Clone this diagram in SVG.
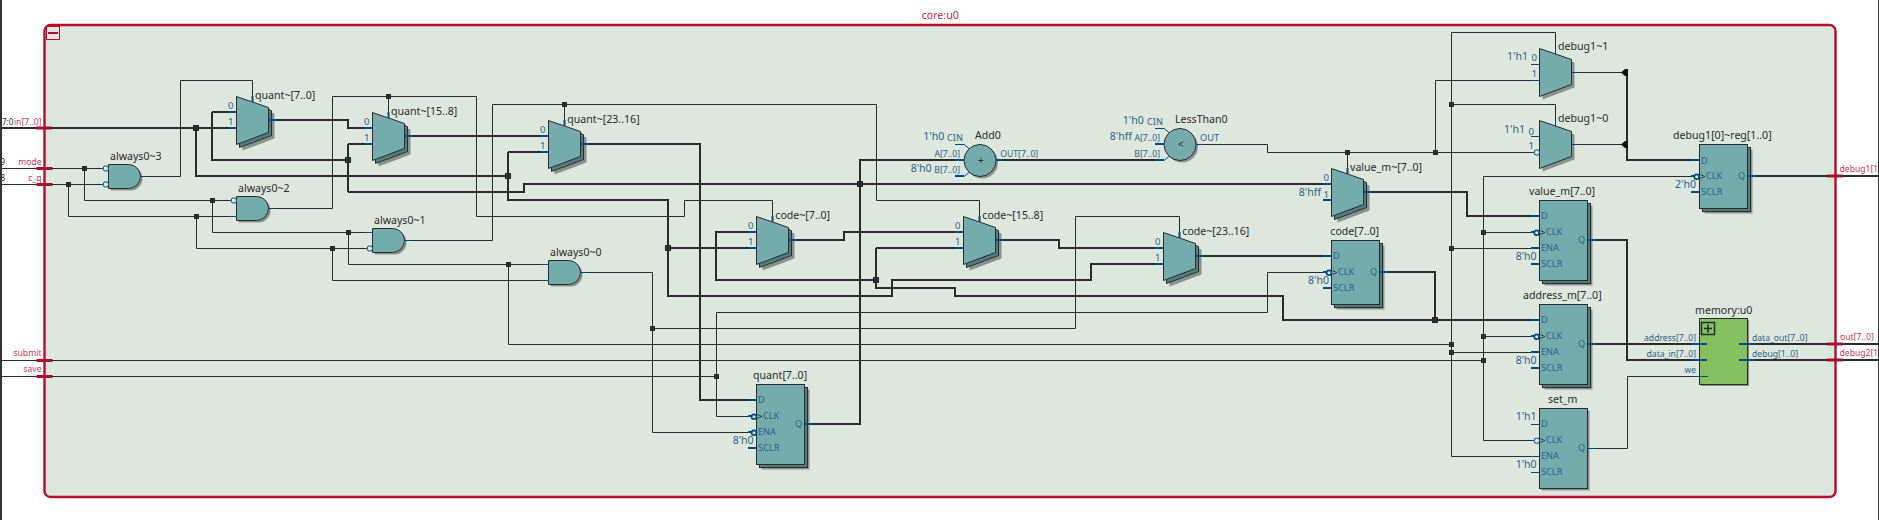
<svg xmlns="http://www.w3.org/2000/svg" xmlns:xlink="http://www.w3.org/1999/xlink" width="1879" height="520" viewBox="0 0 1879 520">
<style>
text{font-family:"Noto Sans","DejaVu Sans",sans-serif}
.n{font-size:10.6px;fill:#2b2b2b}
.l{font-size:9.2px;fill:#2e6288}
.b{font-size:8.6px;fill:#2e6288}
.m{font-size:9.6px;fill:#2e6288}
.c{font-size:10.6px;fill:#2e6288}
.e{text-anchor:end}
.r{font-size:8.6px;fill:#c0395a}
.k{font-size:8px;fill:#2b2b2b}
.w{fill:none;stroke:#2b2b2b;stroke-width:1}
.t{fill:none;stroke:#2b2b2b;stroke-width:2}
.j{fill:#2b2b2b}
.p{fill:none;stroke:#004a7c;stroke-width:1}
.q{fill:none;stroke:#004a7c;stroke-width:2}
.f{fill:#74abad;stroke:#2b2b2b;stroke-width:1}
.d{fill:#4d7f80;stroke:#2b2b2b;stroke-width:1}
.s{fill:#8a918c}
.x{fill:#a80d2b}
</style>
<defs>
<polygon id="mp" points="0,0 32,11 32,36 0,48"/>
<g id="mux3"><use href="#mp" class="s" x="6" y="6"/><use href="#mp" class="d" x="3" y="3"/><use href="#mp" class="f"/></g>
<g id="mux1"><use href="#mp" class="s" x="3" y="3"/><use href="#mp" class="f"/></g>
<path id="ap" d="M0 0H20A12 12 0 0 1 20 24H0Z"/>
<g id="and"><use href="#ap" class="s" x="2" y="2"/><use href="#ap" class="f"/></g>
<g id="reg80"><rect x="5" y="5" width="48" height="80" class="s"/><rect x="3" y="3" width="48" height="80" class="d"/><rect width="48" height="80" class="f"/></g>
<g id="reg64"><rect x="5" y="5" width="48" height="64" class="s"/><rect x="3" y="3" width="48" height="64" class="d"/><rect width="48" height="64" class="f"/></g>
<g id="reg1"><rect x="2" y="2" width="48" height="80" class="s"/><rect width="48" height="80" class="f"/></g>
<g id="op"><circle cx="2" cy="2" r="16" class="s"/><circle r="16" class="f"/></g>
<g id="bth"><circle r="2.4" fill="#dde7dd" stroke="#004a7c" stroke-width="1.7"/></g>
<g id="btn"><circle r="2.7" fill="#dde7dd" stroke="#004a7c" stroke-width="1"/></g>
<path id="wed" d="M0 -2L5 0L0 2" fill="none" stroke="#2b2b2b" stroke-width="0.8"/>
<rect id="jw" x="-2.5" y="-2.5" width="5" height="5" class="j"/>
<rect id="jt" x="-3" y="-3" width="6" height="6" class="j"/>
<polygon id="ah" points="-6,0 -2,-3.4 1,-3.4 1,3.4 -2,3.4" fill="#111"/>
<rect id="tk" x="-8" y="-1.5" width="16" height="3" class="x"/>
</defs>

<rect width="1879" height="520" fill="#fff"/>

<g id="frame">
<rect x="45.5" y="26.5" width="1791" height="471.5" rx="6" fill="#c4c6c4"/>
<rect x="44.5" y="25" width="1791" height="472" rx="6" fill="#dde7dd" stroke="#b30f2d" stroke-width="2.4"/>
<rect x="46.5" y="26.5" width="13" height="13" fill="none" stroke="#b30f2d" stroke-width="1"/>
<rect x="48" y="32" width="10" height="2" class="x"/>
<text x="921.7" y="18.7" font-size="10.6" fill="#c0274a">core:u0</text>
</g>

<g id="connectors">
<path class="w" d="M2 168.5H104M2 184.5H104M84.5 168.5V200.5H232M68.5 184.5V216.5H237M212.5 200.5V232.5H373M196.5 216.5V248.5H368M348.5 232.5V264.5H549M332.5 248.5V280.5H549"/>
<path class="w" d="M141 176.5H180.5V80.5H252.5V102M269 208.5H332.5V96.5H476.5V216.5H684.5V200.5H772.5V222M388.5 96.5V118M405 240.5H492.5V104.5H876.5V200.5H979.5V222M564.5 104.5V126"/>
<path class="w" d="M581 272.5H652.5V432.5H751M652.5 328.5H1075.5V216.5H1179.5V238M508.5 264.5V344.5H1451.5M2 360.5H1483.5M2 376.5H716.5M716.5 312.5V416.5H750M716.5 312.5H1267.5V272.5H1323"/>
<path class="w" d="M1195.5 144.5H1267.5V152.5H1534M1347.5 152.5V174M1435.5 152.5V80.5H1539.5M1451.5 32.5H1555.5V54M1451.5 104.5H1555.5V126M1451.5 32.5V456.5H1539.5M1451.5 248.5H1531M1451.5 352.5H1531"/>
<path class="w" d="M1483.5 176.5H1691M1483.5 176.5V440.5H1534M1483.5 232.5H1531M1483.5 336.5H1531M1587.5 448.5H1627.5V376.5H1708M1571.5 72.5H1622M1571.5 144.5H1622"/>
<path class="t" d="M2 128H236M212 112H236M212 112V160H348M348 144V192M348 144H372M269 120H348V128H372M405 136H548M196 128V176H508"/>
<path class="t" d="M508 152V200H668V296H892V280H1091V264H1164M508 152H548M668 248H756M348 192H524V184H1332M581 144H700V400H756M805 424H860V160H964"/>
<path class="t" d="M789 240H844V232H963M756 232H716V280H876M876 248H964M876 248V288H955V296H1283V320H1539M996 240H1059V248H1164M1196 256H1332M1380 272H1435V320M996 160H1164"/>
<path class="t" d="M1364 192H1467V216H1540M1627 72V160H1692M1588 240H1627V360H1692M1588 344H1692M1748 176H1878M1748 344H1878M1748 360H1878"/>
<use href="#jw" x="84.5" y="168.5"/><use href="#jw" x="68.5" y="184.5"/><use href="#jw" x="212.5" y="200.5"/><use href="#jw" x="196.5" y="216.5"/>
<use href="#jw" x="348.5" y="232.5"/><use href="#jw" x="332.5" y="248.5"/><use href="#jw" x="508.5" y="264.5"/><use href="#jw" x="652.5" y="328.5"/>
<use href="#jw" x="716.5" y="376.5"/><use href="#jw" x="388.5" y="96.5"/><use href="#jw" x="564.5" y="104.5"/><use href="#jw" x="1347.5" y="152.5"/>
<use href="#jw" x="1435.5" y="152.5"/><use href="#jw" x="1451.5" y="104.5"/><use href="#jw" x="1451.5" y="248.5"/><use href="#jw" x="1451.5" y="344.5"/>
<use href="#jw" x="1451.5" y="352.5"/><use href="#jw" x="1483.5" y="232.5"/><use href="#jw" x="1483.5" y="336.5"/><use href="#jw" x="1483.5" y="360.5"/>
<use href="#jt" x="196" y="128"/><use href="#jt" x="348" y="160"/><use href="#jt" x="508" y="176"/><use href="#jt" x="668" y="248"/>
<use href="#jt" x="860" y="184"/><use href="#jt" x="876" y="280"/><use href="#jt" x="1435" y="320"/>
<use href="#ah" x="1627" y="72.5"/><use href="#ah" x="1627" y="144.5"/>
</g>

<g id="ports">
<use href="#tk" x="44" y="128"/><use href="#tk" x="44.5" y="168.5"/><use href="#tk" x="44.5" y="184.5"/><use href="#tk" x="44.5" y="360.5"/><use href="#tk" x="44.5" y="376.5"/>
<use href="#tk" x="1834.7" y="176"/><use href="#tk" x="1834.7" y="344"/><use href="#tk" x="1834.7" y="360"/>
<text class="k" x="2" y="124.5">7:0</text><text class="k" x="0.5" y="164.5">9</text><text class="k" x="0.5" y="180.5">8</text>
<text class="r e" x="41.5" y="124.5">in[7..0]</text><text class="r e" x="41.5" y="164.5">mode</text><text class="r e" x="41.5" y="180.5">c_q</text>
<text class="r e" x="41.5" y="355.5">submit</text><text class="r e" x="41.5" y="371.5">save</text>
<text class="r" x="1839.5" y="172">debug1[1</text><text class="r" x="1840" y="340">out[7..0]</text><text class="r" x="1839.5" y="356">debug2[1</text>
</g>
<rect x="0" y="0" width="2" height="520" fill="#333"/>
<rect x="1878" y="0" width="1" height="520" fill="#333"/>

<g id="always0-3"><use href="#and" x="108.5" y="164.5"/><path class="p" d="M101 168.5h5M101 184.5h5M141 176.5h7"/><use href="#btn" x="105.8" y="168.5"/><use href="#btn" x="105.8" y="184.5"/><text class="n" x="110" y="160">always0~3</text></g>
<g id="always0-2"><use href="#and" x="236.5" y="196.5"/><path class="p" d="M229 200.5h5M229 216.5h8M269 208.5h7"/><use href="#btn" x="233.8" y="200.5"/><text class="n" x="238" y="192">always0~2</text></g>
<g id="always0-1"><use href="#and" x="372.5" y="228.5"/><path class="p" d="M365 232.5h8M365 248.5h5M405 240.5h7"/><use href="#btn" x="369.8" y="248.5"/><text class="n" x="374" y="224">always0~1</text></g>
<g id="always0-0"><use href="#and" x="548.5" y="260.5"/><path class="p" d="M541 264.5h8M541 280.5h8M581 272.5h7"/><text class="n" x="550" y="256">always0~0</text></g>

<g id="quant-7-0"><use href="#mux3" x="236.5" y="96.5"/><path class="q" d="M228 112h8M228 128h8M269 120h8"/><path class="q" d="M252.5 96v6" stroke-width="1.5"/><text class="m" x="228" y="109">0</text><text class="m" x="228" y="125">1</text><text class="n" x="255" y="98.5">quant~[7..0]</text></g>
<g id="quant-15-8"><use href="#mux3" x="372.5" y="112.5"/><path class="q" d="M364 128h8M364 144h8M405 136h8M388.5 112v6"/><text class="m" x="364" y="125">0</text><text class="m" x="364" y="141">1</text><text class="n" x="391" y="114.5">quant~[15..8]</text></g>
<g id="quant-23-16"><use href="#mux3" x="548.5" y="120.5"/><path class="q" d="M540 136h8M540 152h8M581 144h8M564.5 120v6"/><text class="m" x="540" y="133">0</text><text class="m" x="540" y="149">1</text><text class="n" x="567.3" y="122.5">quant~[23..16]</text></g>
<g id="code-7-0"><use href="#mux3" x="756.5" y="216.5"/><path class="q" d="M748 232h8M748 248h8M789 240h8M772.5 216v6"/><text class="m" x="748" y="229">0</text><text class="m" x="748" y="245">1</text><text class="n" x="775.3" y="218.5">code~[7..0]</text></g>
<g id="code-15-8"><use href="#mux3" x="963.5" y="216.5"/><path class="q" d="M955 232h8M955 248h8M996 240h8M979.5 216v6"/><text class="m" x="955" y="229">0</text><text class="m" x="955" y="245">1</text><text class="n" x="982.3" y="218.5">code~[15..8]</text></g>
<g id="code-23-16"><use href="#mux3" x="1163.5" y="232.5"/><path class="q" d="M1155 248h8M1155 264h8M1196 256h8M1179.5 232v6"/><text class="m" x="1155" y="245">0</text><text class="m" x="1155" y="261">1</text><text class="n" x="1182.3" y="234.5">code~[23..16]</text></g>
<g id="value_m-mux"><use href="#mux3" x="1331.5" y="168.5"/><path class="q" d="M1323 184h8M1323 200h8M1364 192h8M1347.5 168v6"/><text class="m" x="1323.5" y="181">0</text><text class="m" x="1323.5" y="198">1</text><text class="c e" x="1321" y="196">8'hff</text><text class="n" x="1350" y="170.5">value_m~[7..0]</text></g>

<g id="Add0"><use href="#op" x="980" y="160.5"/><path class="p" d="M955 144.5h9l5 4M964 176.5l5 -4M996 160h7"/><path class="q" d="M955 160h9M955 176h9M996 160h8"/><text x="978" y="163.5" font-size="10" fill="#2b2b2b">+</text><text class="c" x="923.3" y="140">1'h0</text><text class="l" x="947" y="141">CIN</text><text class="b e" x="960" y="157">A[7..0]</text><text class="c e" x="931.7" y="172">8'h0</text><text class="b e" x="960" y="173">B[7..0]</text><text class="b" x="1000.3" y="157">OUT[7..0]</text><text class="n" x="975" y="139">Add0</text></g>
<g id="LessThan0"><use href="#op" x="1180" y="144.5"/><path class="p" d="M1155 128.5h9l5 4M1164 160.5l5 -4M1196 144.5h7"/><path class="q" d="M1155 144h9M1155 160h9"/><text x="1178" y="147.5" font-size="10" fill="#2b2b2b">&lt;</text><text class="c" x="1122.7" y="124">1'h0</text><text class="l" x="1147" y="125">CIN</text><text class="c e" x="1132" y="140">8'hff</text><text class="b e" x="1160" y="141">A[7..0]</text><text class="b e" x="1160" y="157">B[7..0]</text><text class="l" x="1200" y="141">OUT</text><text class="n" x="1175" y="123">LessThan0</text></g>

<g id="debug1-1"><use href="#mux1" x="1539.5" y="48.5"/><path class="p" d="M1531 64.5h8M1531 80.5h8M1571.5 72.5h7M1555.5 48v6"/><text class="c e" x="1528" y="60">1'h1</text><text class="m" x="1531.5" y="61">0</text><text class="m" x="1531.5" y="77">1</text><text class="n" x="1558" y="50">debug1~1</text></g>
<g id="debug1-0"><use href="#mux1" x="1539.5" y="120.5"/><path class="p" d="M1531 136.5h8M1531 152.5h4M1571.5 144.5h7M1555.5 120v6"/><use href="#btn" x="1536.8" y="152.5"/><text class="c e" x="1525" y="133">1'h1</text><text class="m" x="1528.5" y="134.5">0</text><text class="m" x="1528.5" y="149">1</text><text class="n" x="1558" y="122">debug1~0</text></g>

<g id="debug1-reg"><use href="#reg64" x="1699.5" y="144.5"/><path class="q" d="M1691 160h8M1691 192h8M1691 176h4M1748 176h8"/><use href="#bth" x="1696.7" y="176.7"/><use href="#wed" x="1700" y="176.5"/><text class="l" x="1701" y="163.5">D</text><text class="l" x="1706" y="178.5">CLK</text><text class="l" x="1701" y="194.5">SCLR</text><text class="l" x="1738" y="178.5">Q</text><text class="c e" x="1696" y="188">2'h0</text><text class="n" x="1673" y="139">debug1[0]~reg[1..0]</text></g>
<g id="value_m"><use href="#reg80" x="1539.5" y="200.5"/><path class="q" d="M1531 216h8M1531 248h8M1531 264h8M1531 232h4M1588 240h8"/><use href="#bth" x="1536.7" y="232.7"/><use href="#wed" x="1540" y="232.5"/><text class="l" x="1541" y="218.5">D</text><text class="l" x="1546" y="234.5">CLK</text><text class="l" x="1541" y="250.5">ENA</text><text class="l" x="1541" y="266.5">SCLR</text><text class="l" x="1578" y="242.5">Q</text><text class="c e" x="1536.7" y="260">8'h0</text><text class="n" x="1529" y="195">value_m[7..0]</text></g>
<g id="address_m"><use href="#reg80" x="1539.5" y="304.5"/><path class="q" d="M1531 320h8M1531 352h8M1531 368h8M1531 336h4M1588 344h8"/><use href="#bth" x="1536.7" y="336.7"/><use href="#wed" x="1540" y="336.5"/><text class="l" x="1541" y="322.5">D</text><text class="l" x="1546" y="338.5">CLK</text><text class="l" x="1541" y="354.5">ENA</text><text class="l" x="1541" y="370.5">SCLR</text><text class="l" x="1578" y="346.5">Q</text><text class="c e" x="1536.7" y="364">8'h0</text><text class="n" x="1523" y="299">address_m[7..0]</text></g>
<g id="set_m"><use href="#reg1" x="1539.5" y="408.5"/><path class="p" d="M1531 424.5h8M1531 456.5h8M1531 472.5h8M1531 440.5h3M1587.5 448.5h8"/><use href="#btn" x="1536.8" y="440.7"/><use href="#wed" x="1540" y="440.5"/><text class="l" x="1541" y="426.5">D</text><text class="l" x="1546" y="442.5">CLK</text><text class="l" x="1541" y="458.5">ENA</text><text class="l" x="1541" y="474.5">SCLR</text><text class="l" x="1578" y="450.5">Q</text><text class="c e" x="1536.7" y="420">1'h1</text><text class="c e" x="1536.7" y="468">1'h0</text><text class="n" x="1548" y="403">set_m</text></g>
<g id="code"><use href="#reg64" x="1331.5" y="240.5"/><path class="q" d="M1323 256h8M1323 288h8M1323 272h4M1380 272h8"/><use href="#bth" x="1329" y="272.7"/><use href="#wed" x="1332" y="272.5"/><text class="l" x="1333" y="258.5">D</text><text class="l" x="1338" y="274.5">CLK</text><text class="l" x="1333" y="290.5">SCLR</text><text class="l" x="1370" y="274.5">Q</text><text class="c e" x="1329" y="284">8'h0</text><text class="n" x="1330.3" y="235">code[7..0]</text></g>
<g id="quant"><use href="#reg80" x="756.5" y="384.5"/><path class="q" d="M748 400h8M748 448h8M748 416h4M748 432h4M805 424h8"/><use href="#bth" x="754" y="416.7"/><use href="#bth" x="754" y="432.7"/><use href="#wed" x="757" y="416.5"/><text class="l" x="758" y="402.5">D</text><text class="l" x="763" y="418.5">CLK</text><text class="l" x="758" y="434.5">ENA</text><text class="l" x="758" y="450.5">SCLR</text><text class="l" x="795" y="426.5">Q</text><text class="c e" x="753.7" y="444">8'h0</text><text class="n" x="753" y="379">quant[7..0]</text></g>
<g id="memory"><rect x="1701" y="320" width="48" height="66" class="s"/><rect x="1699.5" y="318.5" width="48" height="66" fill="#84c060" stroke="#2b2b2b"/><rect x="1701.5" y="322.5" width="13" height="12" fill="#84c060" stroke="#2b2b2b" stroke-width="1.5"/><path d="M1704 328.5h8M1708 324.5v8" stroke="#2b2b2b" stroke-width="1.6"/><path class="q" d="M1692 344h15M1692 360h15M1739 344h16M1739 360h16"/><path class="p" d="M1692 376.5h16"/><text class="b e" x="1696" y="341">address[7..0]</text><text class="b e" x="1696" y="357">data_in[7..0]</text><text class="b e" x="1696" y="373">we</text><text class="b" x="1752" y="341">data_out[7..0]</text><text class="b" x="1752" y="357">debug[1..0]</text><text class="n" x="1695" y="314">memory:u0</text></g>
</svg>
